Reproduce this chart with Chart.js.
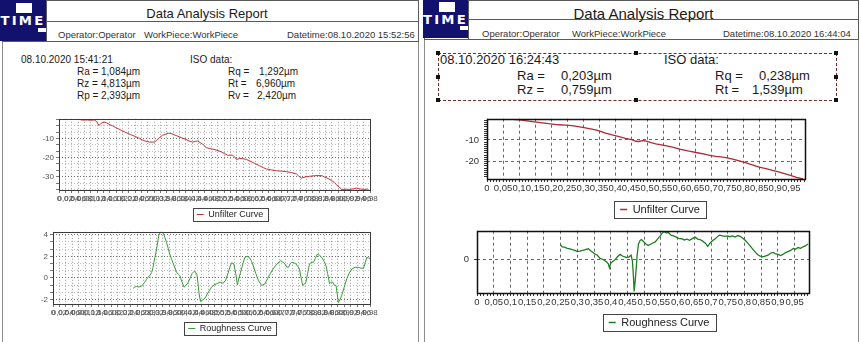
<!DOCTYPE html>
<html>
<head>
<meta charset="utf-8">
<title>Data Analysis Report</title>
<script src="https://cdn.jsdelivr.net/npm/chart.js@4.4.1/dist/chart.umd.min.js"></script>
<style>
  html, body { margin:0; padding:0; background:#fff; }
  body { position:relative; width:861px; height:342px; overflow:hidden;
         font-family:"Liberation Sans", Arial, sans-serif; color:#1a1a1a; }
  .box { position:absolute; box-sizing:border-box; }
  .t { position:absolute; white-space:nowrap; line-height:1; }
  .logo { position:absolute; background:#12126e; overflow:hidden; }
  .logo .hole { position:absolute; background:#fff; }
  .logo .word { position:absolute; left:0; width:100%; text-align:center; color:#fff; font-weight:bold;
                font-family:"DejaVu Sans", sans-serif; letter-spacing:2px; line-height:1;
                transform:scaleX(1.1); }
  canvas { position:absolute; }
  .handle { position:absolute; width:4px; height:4px; background:#111; }
</style>
</head>
<body>

<!-- left report -->
<div class="box" style="left:2px;top:0;width:417px;height:350px;border:1px solid #8c8c8c"></div>
<div class="box" style="left:2px;top:0;width:417px;height:42px;border:1px solid #5a5a5a"></div>
<div class="box" style="left:46px;top:0;width:1px;height:42px;background:#5a5a5a"></div>
<div class="box" style="left:46px;top:21px;width:373px;height:1px;background:#5a5a5a"></div>
<div class="logo" style="left:0;top:0;width:46px;height:41px">
  <div class="hole" style="left:16px;top:3px;width:16px;height:10px"></div>
  <div class="hole" style="left:38px;top:28px;width:8px;height:4px"></div>
  <div class="word" style="top:15px;font-size:12px">TIME</div>
</div>
<div class="t" style="left:0;width:414px;text-align:center;top:7px;font-size:13px">Data Analysis Report</div>
<div class="t" style="left:58px;top:30px;font-size:9.5px;color:#333">Operator:Operator</div>
<div class="t" style="left:144px;top:30px;font-size:9.5px;color:#333">WorkPiece:WorkPiece</div>
<div class="t" style="left:287px;top:30px;font-size:9.5px;color:#333">Datetime:08.10.2020 15:52:56</div>

<div class="t" style="left:21px;top:55px;font-size:10px">08.10.2020 15:41:21</div>
<div class="t" style="left:77px;top:67px;font-size:10px">Ra =</div>
<div class="t" style="left:101px;top:67px;font-size:10px">1,084µm</div>
<div class="t" style="left:77px;top:79px;font-size:10px">Rz =</div>
<div class="t" style="left:101px;top:79px;font-size:10px">4,813µm</div>
<div class="t" style="left:77px;top:91px;font-size:10px">Rp =</div>
<div class="t" style="left:101px;top:91px;font-size:10px">2,393µm</div>
<div class="t" style="left:190px;top:55px;font-size:10px">ISO data:</div>
<div class="t" style="left:228px;top:67px;font-size:10px">Rq =</div>
<div class="t" style="left:259px;top:67px;font-size:10px">1,292µm</div>
<div class="t" style="left:228px;top:79px;font-size:10px">Rt =</div>
<div class="t" style="left:256px;top:79px;font-size:10px">6,960µm</div>
<div class="t" style="left:228px;top:91px;font-size:10px">Rv =</div>
<div class="t" style="left:257px;top:91px;font-size:10px">2,420µm</div>

<!-- right report -->
<div class="box" style="left:424px;top:0;width:435px;height:350px;border:1px solid #8c8c8c"></div>
<div class="box" style="left:424px;top:0;width:435px;height:40px;border:1px solid #5a5a5a"></div>
<div class="box" style="left:468px;top:0;width:1px;height:40px;background:#5a5a5a"></div>
<div class="box" style="left:468px;top:19px;width:391px;height:1px;background:#5a5a5a"></div>
<div class="logo" style="left:423px;top:0;width:45px;height:38px">
  <div class="hole" style="left:16px;top:2px;width:16px;height:10px"></div>
  <div class="hole" style="left:37px;top:26px;width:8px;height:4px"></div>
  <div class="word" style="top:14px;font-size:12px">TIME</div>
</div>
<div class="t" style="left:424px;width:439px;text-align:center;top:6px;font-size:15px">Data Analysis Report</div>
<div class="t" style="left:482px;top:29px;font-size:9.5px;color:#333">Operator:Operator</div>
<div class="t" style="left:572px;top:29px;font-size:9.5px;color:#333">WorkPiece:WorkPiece</div>
<div class="t" style="left:723px;top:29px;font-size:9.5px;color:#333">Datetime:08.10.2020 16:44:04</div>

<div class="box" style="left:438px;top:53px;width:399px;height:48px;border:1px dashed #7a2a2a"></div>
<div class="handle" style="left:436px;top:51px"></div>
<div class="handle" style="left:634px;top:51px"></div>
<div class="handle" style="left:834px;top:51px"></div>
<div class="handle" style="left:436px;top:75px"></div>
<div class="handle" style="left:834px;top:75px"></div>
<div class="handle" style="left:436px;top:98px"></div>
<div class="handle" style="left:634px;top:98px"></div>
<div class="handle" style="left:834px;top:98px"></div>
<div class="t" style="left:440px;top:53px;font-size:13px">08.10.2020 16:24:43</div>
<div class="t" style="left:517px;top:69px;font-size:13px">Ra =</div>
<div class="t" style="left:561px;top:69px;font-size:13px">0,203µm</div>
<div class="t" style="left:517px;top:83px;font-size:13px">Rz =</div>
<div class="t" style="left:561px;top:83px;font-size:13px">0,759µm</div>
<div class="t" style="left:664px;top:53px;font-size:13px">ISO data:</div>
<div class="t" style="left:715px;top:69px;font-size:13px">Rq =</div>
<div class="t" style="left:759px;top:69px;font-size:13px">0,238µm</div>
<div class="t" style="left:715px;top:83px;font-size:13px">Rt =</div>
<div class="t" style="left:752px;top:83px;font-size:13px">1,539µm</div>

<canvas id="unfilterL" width="365" height="117" style="left:20px;top:112px"></canvas>
<canvas id="roughL" width="365" height="118" style="left:20px;top:225px"></canvas>
<canvas id="unfilterR" width="360" height="117" style="left:460px;top:108px"></canvas>
<canvas id="roughR" width="366" height="118" style="left:458px;top:220px"></canvas>

<script>
Chart.defaults.font.family = '"Liberation Sans", Arial, sans-serif';

// left report (15:41:21), unfiltered profile, µm
const unfilterLX = [0.063, 0.075, 0.089, 0.100, 0.111, 0.118, 0.126, 0.133, 0.142, 0.150, 0.158, 0.168,
  0.179, 0.195, 0.211, 0.226, 0.242, 0.253, 0.263, 0.274, 0.285, 0.300, 0.308, 0.316, 0.326, 0.337,
  0.345, 0.353, 0.363, 0.374, 0.387, 0.400, 0.410, 0.421, 0.430, 0.437, 0.445, 0.453, 0.459, 0.464,
  0.475, 0.485, 0.498, 0.511, 0.522, 0.532, 0.540, 0.548, 0.555, 0.559, 0.570, 0.580, 0.590, 0.601,
  0.616, 0.632, 0.644, 0.654, 0.670, 0.685, 0.700, 0.717, 0.733, 0.748, 0.756, 0.764, 0.775, 0.790,
  0.805, 0.822, 0.830, 0.838, 0.848, 0.859, 0.867, 0.875, 0.883, 0.891, 0.905, 0.917, 0.928, 0.938,
  0.948, 0.959, 0.974];
const unfilterLY = [0.0, -0.4, -0.3, -0.5, -0.3, -1.0, -3.2, -2.0, -1.4, -1.8, -2.6, -3.3,
  -4.3, -5.6, -6.9, -8.0, -9.1, -9.9, -10.8, -11.5, -11.9, -11.9, -11.0, -9.6, -8.4, -7.7,
  -7.3, -7.4, -8.1, -8.8, -9.7, -10.5, -11.3, -11.9, -11.5, -11.4, -12.2, -13.0, -14.0, -14.8,
  -15.3, -15.6, -16.2, -17.0, -18.0, -18.8, -18.7, -18.8, -20.0, -21.0, -20.5, -20.6, -21.0, -21.7,
  -23.0, -24.3, -25.3, -26.0, -26.5, -26.9, -27.1, -27.4, -27.9, -28.6, -29.8, -30.8, -30.2, -29.8,
  -29.5, -29.4, -29.6, -30.3, -31.0, -32.0, -33.0, -34.3, -35.5, -36.7, -36.6, -36.7, -36.3, -36.0,
  -36.4, -36.7, -36.5];

// left report, roughness profile, µm
const roughLX = [0.248, 0.253, 0.258, 0.266, 0.274, 0.280, 0.284, 0.289, 0.294, 0.300, 0.305, 0.309,
  0.312, 0.315, 0.318, 0.322, 0.325, 0.328, 0.330, 0.336, 0.341, 0.346, 0.351, 0.356, 0.361, 0.367,
  0.372, 0.377, 0.382, 0.387, 0.392, 0.398, 0.405, 0.411, 0.418, 0.425, 0.430, 0.436, 0.441, 0.445,
  0.448, 0.451, 0.454, 0.456, 0.463, 0.470, 0.480, 0.490, 0.498, 0.506, 0.516, 0.526, 0.534, 0.542,
  0.548, 0.552, 0.559, 0.565, 0.570, 0.575, 0.580, 0.587, 0.593, 0.600, 0.607, 0.613, 0.619, 0.627,
  0.635, 0.645, 0.655, 0.663, 0.671, 0.682, 0.692, 0.704, 0.711, 0.717, 0.723, 0.728, 0.733, 0.738,
  0.745, 0.751, 0.757, 0.762, 0.767, 0.772, 0.777, 0.782, 0.787, 0.793, 0.799, 0.805, 0.811, 0.817,
  0.824, 0.831, 0.838, 0.844, 0.849, 0.855, 0.860, 0.865, 0.870, 0.875, 0.879, 0.882, 0.887, 0.893,
  0.900, 0.908, 0.916, 0.924, 0.934, 0.944, 0.952, 0.960, 0.965, 0.970, 0.975, 0.980];
const roughLY = [-0.96, -0.85, -0.80, -0.85, -0.77, -0.55, -0.40, -0.15, 0.06, 0.25, 0.50, 0.95,
  1.44, 1.90, 2.36, 3.00, 3.60, 4.05, 4.27, 4.25, 4.15, 3.75, 3.30, 2.75, 2.20, 1.70,
  1.30, 0.90, 0.52, 0.35, 0.21, -0.30, -0.87, -0.70, -0.41, 0.05, 0.40, 0.60, 0.50, 0.30,
  -0.40, -1.33, -1.90, -2.19, -2.05, -1.88, -1.35, -0.87, -0.65, -0.55, -0.40, -0.50, -0.20, 0.50,
  1.10, 1.40, 1.30, 0.40, -0.65, 0.00, 0.52, 1.30, 1.90, 2.00, 1.90, 1.60, 1.14, 0.40,
  -0.25, -0.71, -0.56, -0.10, 0.37, 0.90, 1.29, 1.60, 1.45, 1.30, 1.00, 0.98, 1.30, 1.44,
  1.40, 1.30, 1.05, 0.83, 0.00, -0.71, -0.60, -0.40, 0.40, 1.30, 1.45, 1.44, 1.80, 2.20,
  2.10, 1.90, 1.55, 1.14, 0.40, -0.55, -0.40, -0.40, -0.70, -0.71, -1.60, -2.30, -2.05, -1.60,
  -0.90, -0.10, 0.45, 0.83, 0.98, 0.98, 0.90, 0.90, 1.40, 1.90, 1.85, 1.80];

// right report (16:24:43), unfiltered profile, µm
const unfilterRX = [0.079, 0.109, 0.135, 0.161, 0.192, 0.224, 0.245, 0.265, 0.285, 0.307, 0.339, 0.355,
  0.370, 0.391, 0.412, 0.433, 0.454, 0.465, 0.474, 0.485, 0.495, 0.510, 0.527, 0.553, 0.579, 0.605,
  0.631, 0.657, 0.683, 0.699, 0.715, 0.730, 0.746, 0.767, 0.788, 0.804, 0.819, 0.835, 0.850, 0.871,
  0.892, 0.913, 0.934, 0.950, 0.966, 0.987];
const unfilterRY = [-0.5, -0.9, -1.4, -1.9, -2.5, -3.0, -3.2, -3.4, -3.9, -4.4, -5.3, -6.0,
  -6.8, -7.7, -8.5, -9.3, -10.0, -10.6, -10.7, -10.3, -10.4, -11.1, -11.8, -12.5, -13.3, -14.3,
  -15.2, -15.9, -16.6, -17.2, -17.6, -17.8, -18.1, -18.8, -19.6, -20.3, -21.0, -21.8, -22.5, -23.2,
  -24.0, -24.8, -25.7, -26.4, -27.2, -28.0];

// right report, roughness profile, µm
const roughRX = [0.249, 0.255, 0.262, 0.270, 0.278, 0.285, 0.293, 0.300, 0.308, 0.316, 0.324, 0.333,
  0.340, 0.347, 0.353, 0.360, 0.368, 0.375, 0.382, 0.388, 0.393, 0.396, 0.400, 0.405, 0.412, 0.420,
  0.428, 0.435, 0.442, 0.448, 0.455, 0.461, 0.465, 0.468, 0.470, 0.473, 0.476, 0.479, 0.483, 0.488,
  0.492, 0.498, 0.505, 0.512, 0.520, 0.527, 0.533, 0.540, 0.548, 0.555, 0.560, 0.566, 0.572, 0.580,
  0.588, 0.596, 0.603, 0.612, 0.620, 0.628, 0.636, 0.645, 0.652, 0.660, 0.667, 0.675, 0.683, 0.690,
  0.697, 0.704, 0.711, 0.718, 0.725, 0.732, 0.740, 0.748, 0.756, 0.764, 0.772, 0.780, 0.787, 0.795,
  0.802, 0.810, 0.818, 0.826, 0.833, 0.840, 0.847, 0.855, 0.862, 0.870, 0.878, 0.885, 0.892, 0.900,
  0.908, 0.915, 0.922, 0.930, 0.938, 0.946, 0.953, 0.960, 0.968, 0.975, 0.982, 0.990];
const roughRY = [0.36, 0.31, 0.30, 0.27, 0.26, 0.24, 0.22, 0.19, 0.20, 0.22, 0.24, 0.26,
  0.21, 0.17, 0.13, 0.10, 0.02, 0.00, -0.03, -0.07, -0.12, -0.21, -0.10, -0.06, -0.02, 0.06,
  0.12, 0.08, 0.06, 0.04, 0.06, 0.10, -0.05, -0.45, -0.80, -0.55, -0.25, 0.10, 0.38, 0.47,
  0.49, 0.44, 0.38, 0.34, 0.38, 0.41, 0.43, 0.50, 0.58, 0.66, 0.69, 0.65, 0.67, 0.60,
  0.58, 0.55, 0.52, 0.51, 0.48, 0.50, 0.47, 0.52, 0.55, 0.50, 0.49, 0.45, 0.40, 0.32,
  0.40, 0.46, 0.50, 0.55, 0.60, 0.59, 0.57, 0.58, 0.56, 0.58, 0.55, 0.59, 0.57, 0.52,
  0.47, 0.40, 0.32, 0.24, 0.17, 0.11, 0.08, 0.06, 0.08, 0.10, 0.15, 0.17, 0.14, 0.12,
  0.09, 0.12, 0.16, 0.19, 0.22, 0.27, 0.25, 0.29, 0.27, 0.31, 0.33, 0.38];

// axis ticks: left reports label every 0.02, right reports every 0.05 with minor marks at 0.01
const leftXTicks = Array.from({length: 50}, (_, i) => i / 50);
const leftUnfilterYTicks = Array.from({length: 12}, (_, i) => -i * 10 / 3);
const leftRoughYTicks = Array.from({length: 10}, (_, i) => -2 + i * 2 / 3);
const rightXTicks = Array.from({length: 100}, (_, i) => i / 100);
const rightUnfilterYTicks = Array.from({length: 27}, (_, i) => -27 + i);
const rightRoughYTicks = [0];

const fmt = v => String(+v.toFixed(2)).replace('.', ',');
const onStep = (v, step) => Math.abs(v / step - Math.round(v / step)) < 1e-6;

// plot border, legend moved to its own centre, and a frame around the legend entry
const framePlugin = {
  id: 'frame',
  afterLayout(chart, args, o) {
    const lg = chart.legend;
    if (!lg) return;
    const dx = o.legendX - (lg.left + lg.right) / 2;
    lg.left += dx;
    lg.right += dx;
  },
  afterDatasetsDraw(chart, args, o) {
    const a = chart.chartArea, ctx = chart.ctx;
    ctx.save();
    ctx.strokeStyle = o.color;
    ctx.lineWidth = o.width;
    ctx.strokeRect(Math.round(a.left) + 0.5, Math.round(a.top) + 0.5,
      Math.round(a.right - a.left), Math.round(a.bottom - a.top));
    const hb = chart.legend && chart.legend.legendHitBoxes[0];
    if (hb) {
      ctx.strokeStyle = '#444';
      ctx.lineWidth = 1;
      ctx.strokeRect(Math.round(hb.left - o.padX) + 0.5, Math.round(hb.top - o.padY) + 0.5,
        Math.round(hb.width + o.padX * 2), Math.round(hb.height + o.padY * 2));
    }
    ctx.restore();
  }
};

function profileChart(id, o) {
  const tickFont = {size: o.tickSize};
  return new Chart(document.getElementById(id), {
    type: 'line',
    data: {
      datasets: [{
        label: o.label,
        data: o.xs.map((x, i) => ({x, y: o.ys[i]})),
        borderColor: o.color,
        backgroundColor: o.color,
        borderWidth: o.lineWidth,
        pointRadius: 0,
        tension: 0,
        fill: false
      }]
    },
    options: {
      responsive: false,
      animation: false,
      devicePixelRatio: 1,
      layout: { padding: { top: o.padTop, right: o.padRight, left: 0, bottom: 0 } },
      scales: {
        x: {
          type: 'linear', min: 0, max: o.xMax,
          afterBuildTicks: s => { s.ticks = o.xTicks.map(value => ({value})); },
          afterFit: s => { s.height = o.xHeight; },
          ticks: { autoSkip: false, maxRotation: 0, minRotation: 0, padding: 1, color: o.tickColor,
                   font: tickFont, callback: v => o.xLabel(v) ? fmt(v) : '' },
          grid: { color: c => o.xGrid(c.tick.value), tickColor: o.markColor, tickLength: 3 },
          border: { display: false, dash: o.dash }
        },
        y: {
          min: o.yMin, max: o.yMax,
          afterBuildTicks: s => { s.ticks = o.yTicks.map(value => ({value})); },
          afterFit: s => { s.width = o.yWidth; },
          ticks: { autoSkip: false, padding: o.yPad, color: o.tickColor, font: tickFont,
                   callback: v => o.yLabel(v) ? fmt(v) : '' },
          grid: { color: c => o.yGrid(c.tick.value), tickColor: o.markColor, tickLength: 3 },
          border: { display: false, dash: o.dash }
        }
      },
      plugins: {
        legend: {
          position: 'bottom',
          labels: { usePointStyle: true, pointStyle: 'line', pointStyleWidth: o.legendLine, padding: 4,
                    color: '#222', font: {size: o.legendSize} }
        },
        tooltip: { enabled: false },
        frame: { color: o.frameColor, width: o.frameWidth, padX: o.boxPadX, padY: o.boxPadY, legendX: o.legendX }
      }
    },
    plugins: [framePlugin]
  });
}

const leftStyle = {
  tickSize: 8, tickColor: '#555', markColor: '#777', dash: [1, 2], yPad: 2,
  xLabel: () => true, xGrid: () => '#9c9c9c', xTicks: leftXTicks, xMax: 0.98,
  frameColor: '#3a3a3a', frameWidth: 1, lineWidth: 1, legendSize: 9, legendLine: 7,
  boxPadX: 4, boxPadY: 2, padTop: 6, padRight: 15, xHeight: 16
};
const rightStyle = {
  tickSize: 9.5, tickColor: '#333', markColor: '#333', dash: [3, 3], yPad: 5,
  xLabel: v => onStep(v, 0.05), xGrid: v => onStep(v, 0.05) ? '#666' : 'rgba(0,0,0,0)',
  xTicks: rightXTicks, xMax: 0.993,
  frameColor: '#111', frameWidth: 1.5, lineWidth: 1.3, legendSize: 11, legendLine: 7,
  boxPadX: 6, boxPadY: 3, padTop: 8, padRight: 15
};

profileChart('unfilterL', Object.assign({}, leftStyle, {
  label: 'Unfilter Curve', xs: unfilterLX, ys: unfilterLY, color: '#c2363a',
  yMin: -37, yMax: 0.3, yTicks: leftUnfilterYTicks, yWidth: 39, legendX: 210,
  yLabel: v => v !== 0 && onStep(v, 10),
  yGrid: v => onStep(v, 10) ? '#6e6e6e' : '#bdbdbd'
}));

profileChart('roughL', Object.assign({}, leftStyle, {
  label: 'Roughness Curve', xs: roughLX, ys: roughLY, color: '#3a9a3a',
  yMin: -2.43, yMax: 4.28, yTicks: leftRoughYTicks, yWidth: 33, legendX: 210,
  yLabel: v => onStep(v, 2),
  yGrid: v => onStep(v, 2) ? '#6e6e6e' : '#bdbdbd'
}));

profileChart('unfilterR', Object.assign({}, rightStyle, {
  label: 'Unfilter Curve', xs: unfilterRX, ys: unfilterRY, color: '#b02a33',
  yMin: -28, yMax: -0.2, yTicks: rightUnfilterYTicks, yWidth: 27, xHeight: 21, legendX: 200,
  yLabel: v => onStep(v, 10),
  yGrid: v => onStep(v, 10) ? '#666' : 'rgba(0,0,0,0)'
}));

profileChart('roughR', Object.assign({}, rightStyle, {
  label: 'Roughness Curve', xs: roughRX, ys: roughRY, color: '#1f7d23',
  yMin: -0.84, yMax: 0.71, yTicks: rightRoughYTicks, yWidth: 19, xHeight: 20, legendX: 201,
  yLabel: () => true,
  yGrid: () => '#666'
}));
</script>
</body>
</html>
